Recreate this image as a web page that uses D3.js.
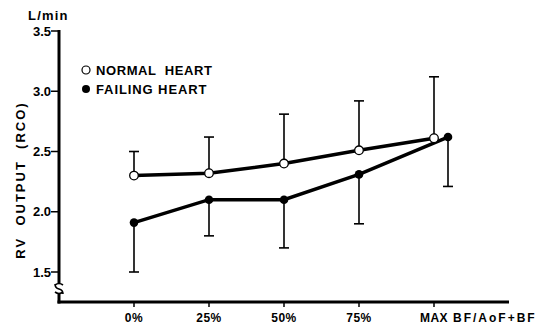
<!DOCTYPE html>
<html>
<head>
<meta charset="utf-8">
<script src="https://cdn.jsdelivr.net/npm/d3@7"></script>
<style>
  html, body { margin: 0; padding: 0; background: #fff; }
  svg { display: block; font-family: 'Liberation Sans', Arial, sans-serif; font-weight: bold; }
</style>
</head>
<body>
<svg id="chart" width="538" height="326"></svg>
<script>
// RV output vs. BF/AoF+BF, normal and failing heart.
var categories = ['0%', '25%', '50%', '75%', 'MAX'];
var normalMean = [2.30, 2.32, 2.40, 2.51, 2.61];
var normalUpper = [2.50, 2.62, 2.81, 2.92, 3.12];
var failingMean = [1.91, 2.10, 2.10, 2.31, 2.62];
var failingLower = [1.50, 1.80, 1.70, 1.90, 2.21];
var yTicks = [1.5, 2.0, 2.5, 3.0, 3.5];

(function () {
    var svg = d3.select('#chart');
    var axisX0 = 59, axisX1 = 509, axisY = 302;

    var y = d3.scaleLinear().domain([1.5, 3.5]).range([272, 31]);
    var x = d3.scalePoint().domain(categories).range([134, 434]);
    // failing-heart MAX point sits a little to the right of the normal one
    function xf(c, i) { return x(c) + (i === categories.length - 1 ? 14 : 0); }

    // Y axis with break
    var ax = svg.append('g').attr('stroke', '#000').attr('fill', 'none');
    ax.append('line').attr('x1', axisX0).attr('x2', axisX0)
        .attr('y1', y(3.5) - 1).attr('y2', 283).attr('stroke-width', 3);
    ax.append('line').attr('x1', axisX0).attr('x2', axisX0)
        .attr('y1', 293).attr('y2', axisY + 1.5).attr('stroke-width', 3);
    ax.append('path').attr('stroke-width', 1.6)
        .attr('d', 'M' + (axisX0 - 4) + ',285 q4,-3 8,0 M' + (axisX0 - 4) + ',284 q0,4 4,5 q4,1 4,5 M' + (axisX0 - 4) + ',292 q4,3 8,0');
    ax.append('line').attr('x1', axisX0 - 1.5).attr('x2', axisX1)
        .attr('y1', axisY).attr('y2', axisY).attr('stroke-width', 3);

    yTicks.forEach(function (v) {
        ax.append('line').attr('x1', axisX0 - 8).attr('x2', axisX0)
            .attr('y1', y(v)).attr('y2', y(v)).attr('stroke-width', 1.5);
        svg.append('text').attr('x', axisX0 - 8).attr('y', y(v) + 4.5)
            .attr('text-anchor', 'end').attr('font-size', 13)
            .text(v.toFixed(1));
    });
    categories.forEach(function (c) {
        ax.append('line').attr('x1', x(c)).attr('x2', x(c))
            .attr('y1', axisY).attr('y2', axisY + 5).attr('stroke-width', 1.5);
        svg.append('text').attr('x', x(c)).attr('y', 322)
            .attr('text-anchor', 'middle').attr('font-size', 12).attr('letter-spacing', 0.5)
            .text(c);
    });
    svg.append('text').attr('x', 453).attr('y', 322)
        .attr('font-size', 12).attr('letter-spacing', 2).text('BF/AoF+BF');
    svg.append('text').attr('x', 28).attr('y', 20)
        .attr('font-size', 13).attr('letter-spacing', 1.2).text('L/min');
    svg.append('text')
        .attr('transform', 'translate(25,180) rotate(-90)')
        .attr('text-anchor', 'middle').attr('font-size', 13).attr('letter-spacing', 2)
        .attr('xml:space', 'preserve').style('white-space', 'pre')
        .text('RV  OUTPUT  (RCO)');

    // Error bars
    var eb = svg.append('g').attr('stroke', '#000').attr('stroke-width', 1.6);
    categories.forEach(function (c, i) {
        eb.append('line').attr('x1', x(c)).attr('x2', x(c))
            .attr('y1', y(normalMean[i])).attr('y2', y(normalUpper[i]));
        eb.append('line').attr('x1', x(c) - 5).attr('x2', x(c) + 5)
            .attr('y1', y(normalUpper[i])).attr('y2', y(normalUpper[i]));
        var xx = xf(c, i);
        eb.append('line').attr('x1', xx).attr('x2', xx)
            .attr('y1', y(failingMean[i])).attr('y2', y(failingLower[i]));
        eb.append('line').attr('x1', xx - 5).attr('x2', xx + 5)
            .attr('y1', y(failingLower[i])).attr('y2', y(failingLower[i]));
    });

    // Lines
    var line = d3.line();
    svg.append('path')
        .datum(categories.map(function (c, i) { return [x(c), y(normalMean[i])]; }))
        .attr('fill', 'none').attr('stroke', '#000').attr('stroke-width', 3.5)
        .attr('d', line);
    svg.append('path')
        .datum(categories.map(function (c, i) { return [xf(c, i), y(failingMean[i])]; }))
        .attr('fill', 'none').attr('stroke', '#000').attr('stroke-width', 3.5)
        .attr('d', line);

    // Markers
    categories.forEach(function (c, i) {
        svg.append('circle').attr('cx', x(c)).attr('cy', y(normalMean[i])).attr('r', 4.3)
            .attr('fill', '#fff').attr('stroke', '#000').attr('stroke-width', 1.3);
        svg.append('circle').attr('cx', xf(c, i)).attr('cy', y(failingMean[i])).attr('r', 4.3)
            .attr('fill', '#000');
    });

    // Legend
    svg.append('circle').attr('cx', 86).attr('cy', 70).attr('r', 4)
        .attr('fill', '#fff').attr('stroke', '#000').attr('stroke-width', 1.2);
    svg.append('text').attr('x', 96).attr('y', 75).attr('font-size', 13).attr('letter-spacing', 0.6)
        .style('white-space', 'pre').text('NORMAL  HEART');
    svg.append('circle').attr('cx', 86).attr('cy', 89).attr('r', 4).attr('fill', '#000');
    svg.append('text').attr('x', 96).attr('y', 94).attr('font-size', 13).attr('letter-spacing', 0.9)
        .text('FAILING HEART');
})();
</script>
</body>
</html>
